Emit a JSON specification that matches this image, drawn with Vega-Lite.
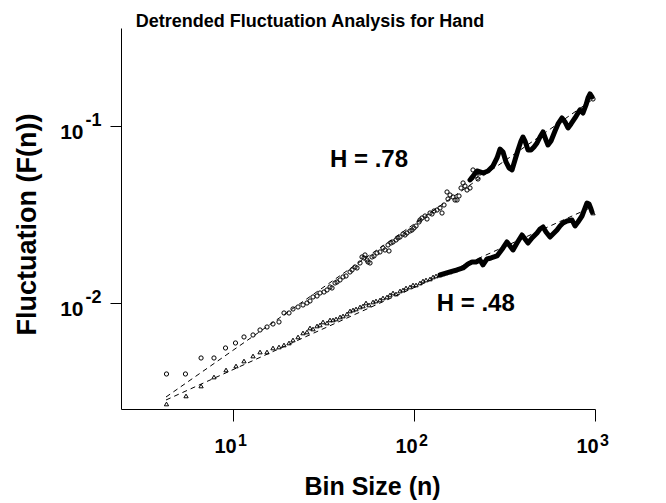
{
  "$schema": "https://vega.github.io/schema/vega-lite/v6.json",
  "width": 474,
  "height": 381,
  "autosize": {"type": "none"},
  "padding": {"left": 121, "top": 28, "right": 71, "bottom": 94},
  "background": "white",
  "config": {
    "view": {"stroke": null},
    "font": "Liberation Sans"
  },
  "title": {
    "text": "Detrended Fluctuation Analysis for Hand",
    "font": "Liberation Sans",
    "fontSize": 18,
    "fontWeight": "bold",
    "color": "black",
    "anchor": "middle",
    "dx": -48,
    "dy": 19,
    "offset": 2,
    "baseline": "alphabetic"
  },
  "datasets": {
    "pts": [
      {"series": "H = .78", "n": 4.29, "F": 0.003971},
      {"series": "H = .78", "n": 5.46, "F": 0.003971},
      {"series": "H = .78", "n": 6.66, "F": 0.004889},
      {"series": "H = .78", "n": 7.85, "F": 0.004889},
      {"series": "H = .78", "n": 9.09, "F": 0.005569},
      {"series": "H = .78", "n": 10.32, "F": 0.005943},
      {"series": "H = .78", "n": 11.5, "F": 0.006426},
      {"series": "H = .78", "n": 12.9, "F": 0.006596},
      {"series": "H = .78", "n": 14.1, "F": 0.007038},
      {"series": "H = .78", "n": 15.41, "F": 0.007318},
      {"series": "H = .78", "n": 16.63, "F": 0.00761},
      {"series": "H = .78", "n": 17.95, "F": 0.007811},
      {"series": "H = .78", "n": 19.13, "F": 0.00878},
      {"series": "H = .78", "n": 20.39, "F": 0.00878},
      {"series": "H = .78", "n": 21.45, "F": 0.00925},
      {"series": "H = .78", "n": 22.87, "F": 0.009493},
      {"series": "H = .78", "n": 24.36, "F": 0.009743},
      {"series": "H = .78", "n": 25.63, "F": 0.01},
      {"series": "H = .78", "n": 26.63, "F": 0.010264},
      {"series": "H = .78", "n": 27.67, "F": 0.010812},
      {"series": "H = .78", "n": 29.12, "F": 0.010953},
      {"series": "H = .78", "n": 30.25, "F": 0.011389},
      {"series": "H = .78", "n": 31.83, "F": 0.011538},
      {"series": "H = .78", "n": 33.06, "F": 0.011843},
      {"series": "H = .78", "n": 34.35, "F": 0.012313},
      {"series": "H = .78", "n": 35.24, "F": 0.012154},
      {"series": "H = .78", "n": 36.61, "F": 0.012972},
      {"series": "H = .78", "n": 37.56, "F": 0.013141},
      {"series": "H = .78", "n": 39.02, "F": 0.013489},
      {"series": "H = .78", "n": 40.53, "F": 0.014026},
      {"series": "H = .78", "n": 42.11, "F": 0.01421},
      {"series": "H = .78", "n": 44.31, "F": 0.014969},
      {"series": "H = .78", "n": 45.45, "F": 0.015363},
      {"series": "H = .78", "n": 47.21, "F": 0.015975},
      {"series": "H = .78", "n": 48.43, "F": 0.015768},
      {"series": "H = .78", "n": 50.32, "F": 0.016827},
      {"series": "H = .78", "n": 51.61, "F": 0.018194},
      {"series": "H = .78", "n": 52.94, "F": 0.017958},
      {"series": "H = .78", "n": 53.62, "F": 0.018673},
      {"series": "H = .78", "n": 55.0, "F": 0.017497},
      {"series": "H = .78", "n": 55.7, "F": 0.017048},
      {"series": "H = .78", "n": 57.14, "F": 0.016827},
      {"series": "H = .78", "n": 58.61, "F": 0.018194},
      {"series": "H = .78", "n": 60.12, "F": 0.018432},
      {"series": "H = .78", "n": 62.45, "F": 0.019165},
      {"series": "H = .78", "n": 64.88, "F": 0.019416},
      {"series": "H = .78", "n": 67.4, "F": 0.020452},
      {"series": "H = .78", "n": 69.14, "F": 0.019928},
      {"series": "H = .78", "n": 71.84, "F": 0.021266},
      {"series": "H = .78", "n": 72.76, "F": 0.01967},
      {"series": "H = .78", "n": 74.63, "F": 0.021826},
      {"series": "H = .78", "n": 76.56, "F": 0.022111},
      {"series": "H = .78", "n": 79.54, "F": 0.022693},
      {"series": "H = .78", "n": 81.58, "F": 0.023291},
      {"series": "H = .78", "n": 83.69, "F": 0.023596},
      {"series": "H = .78", "n": 86.95, "F": 0.024534},
      {"series": "H = .78", "n": 89.19, "F": 0.024217},
      {"series": "H = .78", "n": 91.49, "F": 0.024855},
      {"series": "H = .78", "n": 95.04, "F": 0.02551},
      {"series": "H = .78", "n": 97.5, "F": 0.025844},
      {"series": "H = .78", "n": 100.0, "F": 0.026525},
      {"series": "H = .78", "n": 102.6, "F": 0.027224},
      {"series": "H = .78", "n": 106.6, "F": 0.028678},
      {"series": "H = .78", "n": 107.9, "F": 0.029434},
      {"series": "H = .78", "n": 110.7, "F": 0.030209},
      {"series": "H = .78", "n": 115.0, "F": 0.031004},
      {"series": "H = .78", "n": 118.0, "F": 0.029819},
      {"series": "H = .78", "n": 122.6, "F": 0.032237},
      {"series": "H = .78", "n": 125.7, "F": 0.031821},
      {"series": "H = .78", "n": 129.0, "F": 0.033086},
      {"series": "H = .78", "n": 134.0, "F": 0.033519},
      {"series": "H = .78", "n": 139.2, "F": 0.034402},
      {"series": "H = .78", "n": 142.8, "F": 0.032237},
      {"series": "H = .78", "n": 146.5, "F": 0.035774},
      {"series": "H = .78", "n": 152.2, "F": 0.042371},
      {"series": "H = .78", "n": 154.1, "F": 0.03868},
      {"series": "H = .78", "n": 158.1, "F": 0.040744},
      {"series": "H = .78", "n": 164.3, "F": 0.039698},
      {"series": "H = .78", "n": 168.5, "F": 0.03818},
      {"series": "H = .78", "n": 172.9, "F": 0.03818},
      {"series": "H = .78", "n": 177.3, "F": 0.040218},
      {"series": "H = .78", "n": 181.9, "F": 0.044631},
      {"series": "H = .78", "n": 186.6, "F": 0.047643},
      {"series": "H = .78", "n": 191.3, "F": 0.045805},
      {"series": "H = .78", "n": 196.3, "F": 0.043486},
      {"series": "H = .78", "n": 203.9, "F": 0.044631},
      {"series": "H = .78", "n": 209.2, "F": 0.050843},
      {"series": "H = .78", "n": 211.8, "F": 0.056422},
      {"series": "H = .78", "n": 220.1, "F": 0.052183},
      {"series": "H = .78", "n": 225.7, "F": 0.050187},
      {"series": "H = .78", "n": 231.5, "F": 0.054263},
      {"series": "H = .78", "n": 975.0, "F": 0.1421},
      {"series": "H = .48", "n": 4.29, "F": 0.002688},
      {"series": "H = .48", "n": 5.5, "F": 0.002984},
      {"series": "H = .48", "n": 6.66, "F": 0.003397},
      {"series": "H = .48", "n": 7.85, "F": 0.003818},
      {"series": "H = .48", "n": 9.15, "F": 0.004183},
      {"series": "H = .48", "n": 10.39, "F": 0.004406},
      {"series": "H = .48", "n": 11.5, "F": 0.004701},
      {"series": "H = .48", "n": 12.9, "F": 0.005017},
      {"series": "H = .48", "n": 14.1, "F": 0.005285},
      {"series": "H = .48", "n": 15.41, "F": 0.005285},
      {"series": "H = .48", "n": 16.63, "F": 0.005569},
      {"series": "H = .48", "n": 17.95, "F": 0.005642},
      {"series": "H = .48", "n": 19.13, "F": 0.00579},
      {"series": "H = .48", "n": 20.39, "F": 0.005943},
      {"series": "H = .48", "n": 21.45, "F": 0.00618},
      {"series": "H = .48", "n": 22.87, "F": 0.006426},
      {"series": "H = .48", "n": 24.36, "F": 0.00677},
      {"series": "H = .48", "n": 25.63, "F": 0.006858},
      {"series": "H = .48", "n": 26.63, "F": 0.007225},
      {"series": "H = .48", "n": 27.67, "F": 0.007131},
      {"series": "H = .48", "n": 29.12, "F": 0.007415},
      {"series": "H = .48", "n": 30.25, "F": 0.007511},
      {"series": "H = .48", "n": 31.42, "F": 0.007811},
      {"series": "H = .48", "n": 33.06, "F": 0.007709},
      {"series": "H = .48", "n": 34.35, "F": 0.008017},
      {"series": "H = .48", "n": 35.69, "F": 0.008017},
      {"series": "H = .48", "n": 37.08, "F": 0.008121},
      {"series": "H = .48", "n": 39.02, "F": 0.008335},
      {"series": "H = .48", "n": 40.53, "F": 0.008445},
      {"series": "H = .48", "n": 42.64, "F": 0.008667},
      {"series": "H = .48", "n": 44.31, "F": 0.009012},
      {"series": "H = .48", "n": 46.03, "F": 0.009131},
      {"series": "H = .48", "n": 47.82, "F": 0.00925},
      {"series": "H = .48", "n": 50.32, "F": 0.009493},
      {"series": "H = .48", "n": 52.27, "F": 0.009618},
      {"series": "H = .48", "n": 54.3, "F": 0.01},
      {"series": "H = .48", "n": 56.42, "F": 0.009743},
      {"series": "H = .48", "n": 59.36, "F": 0.010131},
      {"series": "H = .48", "n": 61.66, "F": 0.010264},
      {"series": "H = .48", "n": 64.88, "F": 0.010398},
      {"series": "H = .48", "n": 67.4, "F": 0.010672},
      {"series": "H = .48", "n": 70.93, "F": 0.010812},
      {"series": "H = .48", "n": 73.69, "F": 0.011097},
      {"series": "H = .48", "n": 76.56, "F": 0.011389},
      {"series": "H = .48", "n": 79.54, "F": 0.011242},
      {"series": "H = .48", "n": 83.69, "F": 0.011689},
      {"series": "H = .48", "n": 86.95, "F": 0.011843},
      {"series": "H = .48", "n": 90.33, "F": 0.012154},
      {"series": "H = .48", "n": 95.04, "F": 0.012313},
      {"series": "H = .48", "n": 98.74, "F": 0.012637},
      {"series": "H = .48", "n": 102.6, "F": 0.012637},
      {"series": "H = .48", "n": 107.9, "F": 0.012972},
      {"series": "H = .48", "n": 112.1, "F": 0.013314},
      {"series": "H = .48", "n": 116.5, "F": 0.013489},
      {"series": "H = .48", "n": 122.6, "F": 0.013665},
      {"series": "H = .48", "n": 127.4, "F": 0.014026},
      {"series": "H = .48", "n": 132.3, "F": 0.01421},
      {"series": "H = .48", "n": 139.2, "F": 0.014396},
      {"series": "H = .48", "n": 144.6, "F": 0.014585},
      {"series": "H = .48", "n": 150.3, "F": 0.014776},
      {"series": "H = .48", "n": 158.1, "F": 0.014969},
      {"series": "H = .48", "n": 975.0, "F": 0.032237}
    ],
    "band": [
      {"series": "H = .78", "n": 203.9, "F": 0.049539},
      {"series": "H = .78", "n": 222.9, "F": 0.055695},
      {"series": "H = .78", "n": 240.5, "F": 0.054263},
      {"series": "H = .78", "n": 256.4, "F": 0.055695},
      {"series": "H = .78", "n": 273.2, "F": 0.059429},
      {"series": "H = .78", "n": 287.5, "F": 0.065939},
      {"series": "H = .78", "n": 298.7, "F": 0.074125},
      {"series": "H = .78", "n": 310.3, "F": 0.071293},
      {"series": "H = .78", "n": 322.3, "F": 0.062601},
      {"series": "H = .78", "n": 334.9, "F": 0.057906},
      {"series": "H = .78", "n": 347.9, "F": 0.056422},
      {"series": "H = .78", "n": 361.4, "F": 0.064248},
      {"series": "H = .78", "n": 375.5, "F": 0.073168},
      {"series": "H = .78", "n": 390.1, "F": 0.082247},
      {"series": "H = .78", "n": 400.2, "F": 0.086654},
      {"series": "H = .78", "n": 410.5, "F": 0.082247},
      {"series": "H = .78", "n": 426.5, "F": 0.073168},
      {"series": "H = .78", "n": 443.1, "F": 0.073168},
      {"series": "H = .78", "n": 460.3, "F": 0.076081},
      {"series": "H = .78", "n": 478.2, "F": 0.080137},
      {"series": "H = .78", "n": 496.8, "F": 0.086654},
      {"series": "H = .78", "n": 516.1, "F": 0.0925},
      {"series": "H = .78", "n": 536.2, "F": 0.083326},
      {"series": "H = .78", "n": 549.9, "F": 0.078083},
      {"series": "H = .78", "n": 571.3, "F": 0.082247},
      {"series": "H = .78", "n": 601.2, "F": 0.093706},
      {"series": "H = .78", "n": 624.6, "F": 0.10264},
      {"series": "H = .78", "n": 657.3, "F": 0.11097},
      {"series": "H = .78", "n": 682.9, "F": 0.10534},
      {"series": "H = .78", "n": 709.4, "F": 0.097431},
      {"series": "H = .78", "n": 737.0, "F": 0.10264},
      {"series": "H = .78", "n": 775.5, "F": 0.11097},
      {"series": "H = .78", "n": 805.6, "F": 0.11843},
      {"series": "H = .78", "n": 826.3, "F": 0.12313},
      {"series": "H = .78", "n": 858.5, "F": 0.11843},
      {"series": "H = .78", "n": 891.9, "F": 0.13141},
      {"series": "H = .78", "n": 914.9, "F": 0.14396},
      {"series": "H = .78", "n": 938.6, "F": 0.15163},
      {"series": "H = .78", "n": 962.5, "F": 0.14585},
      {"series": "H = .48", "n": 139.2, "F": 0.014396},
      {"series": "H = .48", "n": 158.1, "F": 0.014969},
      {"series": "H = .48", "n": 172.9, "F": 0.015363},
      {"series": "H = .48", "n": 186.6, "F": 0.015768},
      {"series": "H = .48", "n": 198.8, "F": 0.01661},
      {"series": "H = .48", "n": 209.2, "F": 0.017048},
      {"series": "H = .48", "n": 220.1, "F": 0.017048},
      {"series": "H = .48", "n": 231.5, "F": 0.017497},
      {"series": "H = .48", "n": 240.5, "F": 0.016396},
      {"series": "H = .48", "n": 253.1, "F": 0.017726},
      {"series": "H = .48", "n": 266.3, "F": 0.017958},
      {"series": "H = .48", "n": 287.5, "F": 0.018432},
      {"series": "H = .48", "n": 298.7, "F": 0.019416},
      {"series": "H = .48", "n": 310.3, "F": 0.020452},
      {"series": "H = .48", "n": 326.4, "F": 0.022111},
      {"series": "H = .48", "n": 339.2, "F": 0.020991},
      {"series": "H = .48", "n": 352.4, "F": 0.019928},
      {"series": "H = .48", "n": 370.7, "F": 0.021826},
      {"series": "H = .48", "n": 395.1, "F": 0.024217},
      {"series": "H = .48", "n": 410.5, "F": 0.02299},
      {"series": "H = .48", "n": 426.5, "F": 0.021826},
      {"series": "H = .48", "n": 448.7, "F": 0.023291},
      {"series": "H = .48", "n": 478.2, "F": 0.024855},
      {"series": "H = .48", "n": 496.8, "F": 0.026182},
      {"series": "H = .48", "n": 516.1, "F": 0.026872},
      {"series": "H = .48", "n": 536.2, "F": 0.02518},
      {"series": "H = .48", "n": 564.1, "F": 0.023596},
      {"series": "H = .48", "n": 586.1, "F": 0.024534},
      {"series": "H = .48", "n": 616.7, "F": 0.025844},
      {"series": "H = .48", "n": 640.7, "F": 0.027224},
      {"series": "H = .48", "n": 665.7, "F": 0.028308},
      {"series": "H = .48", "n": 700.5, "F": 0.029054},
      {"series": "H = .48", "n": 746.5, "F": 0.029434},
      {"series": "H = .48", "n": 775.5, "F": 0.027224},
      {"series": "H = .48", "n": 805.6, "F": 0.028678},
      {"series": "H = .48", "n": 847.6, "F": 0.031004},
      {"series": "H = .48", "n": 880.6, "F": 0.034402},
      {"series": "H = .48", "n": 903.3, "F": 0.036716},
      {"series": "H = .48", "n": 926.7, "F": 0.036242},
      {"series": "H = .48", "n": 950.4, "F": 0.033958},
      {"series": "H = .48", "n": 962.5, "F": 0.032659}
    ],
    "fit": [
      {"series": "H = .78", "n": 4.264, "F": 0.002943},
      {"series": "H = .78", "n": 962.5, "F": 0.14026},
      {"series": "H = .48", "n": 4.264, "F": 0.002831},
      {"series": "H = .48", "n": 962.5, "F": 0.034855}
    ],
    "notes": [
      {"label": "H = .78", "n": 34.35, "F": 0.05867},
      {"label": "H = .48", "n": 133.5, "F": 0.009012}
    ]
  },
  "resolve": {"axis": {"x": "independent", "y": "independent"}},
  "layer": [
    {
      "data": {"name": "fit"},
      "mark": {"type": "line", "color": "black", "strokeWidth": 1, "strokeDash": [5, 4]},
      "encoding": {
        "x": {
          "field": "n",
          "type": "quantitative",
          "scale": {"type": "log", "domain": [2.405, 1000], "nice": false, "zero": false},
          "axis": {
            "orient": "bottom",
            "values": [10, 100, 1000],
            "labelExpr": "'10'",
            "grid": false,
            "domainColor": "black",
            "domainWidth": 1,
            "tickColor": "black",
            "tickWidth": 1,
            "tickSize": 12,
            "labelFont": "Liberation Sans",
            "labelFontSize": 20,
            "labelFontWeight": "bold",
            "labelColor": "black",
            "labelAlign": "center",
            "labelOffset": -8,
            "labelPadding": 15,
            "labelFlush": false,
            "labelOverlap": false,
            "title": "Bin Size (n)",
            "titleFont": "Liberation Sans",
            "titleFontSize": 25,
            "titleFontWeight": "bold",
            "titleColor": "black",
            "titleX": 251,
            "titleY": 85,
            "titleAlign": "center",
            "titleBaseline": "alphabetic"
          }
        },
        "y": {
          "field": "F",
          "type": "quantitative",
          "scale": {"type": "log", "domain": [0.002518, 0.35774], "nice": false, "zero": false},
          "axis": {
            "orient": "left",
            "values": [0.01, 0.1],
            "labelExpr": "'10'",
            "grid": false,
            "domainColor": "black",
            "domainWidth": 1,
            "tickColor": "black",
            "tickWidth": 1,
            "tickSize": 11,
            "labelFont": "Liberation Sans",
            "labelFontSize": 21,
            "labelFontWeight": "bold",
            "labelColor": "black",
            "labelAlign": "right",
            "labelBaseline": "middle",
            "labelPadding": 27,
            "labelOffset": 7,
            "labelFlush": false,
            "labelOverlap": false,
            "title": "Fluctuation (F(n))",
            "titleFont": "Liberation Sans",
            "titleFontSize": 27,
            "titleFontWeight": "bold",
            "titleColor": "black",
            "titleX": -86,
            "titleY": 196,
            "titleAngle": 270,
            "titleAlign": "center",
            "titleBaseline": "alphabetic"
          }
        },
        "detail": {"field": "series"}
      }
    },
    {
      "data": {"name": "band"},
      "mark": {"type": "line", "color": "black", "strokeWidth": 5, "strokeJoin": "round", "strokeCap": "round"},
      "encoding": {
        "x": {"field": "n", "type": "quantitative", "axis": null},
        "y": {"field": "F", "type": "quantitative", "axis": null},
        "detail": {"field": "series"}
      }
    },
    {
      "data": {"name": "pts"},
      "mark": {"type": "point", "filled": false, "color": "black", "strokeWidth": 1, "size": 18, "opacity": 1},
      "encoding": {
        "x": {"field": "n", "type": "quantitative", "axis": null},
        "y": {"field": "F", "type": "quantitative", "axis": null},
        "shape": {
          "field": "series",
          "type": "nominal",
          "scale": {"domain": ["H = .78", "H = .48"], "range": ["circle", "triangle-up"]},
          "legend": null
        }
      }
    },
    {
      "data": {"name": "notes"},
      "mark": {"type": "text", "align": "left", "baseline": "alphabetic", "font": "Liberation Sans", "fontSize": 24, "fontWeight": "bold", "color": "black"},
      "encoding": {
        "x": {
          "field": "n",
          "type": "quantitative",
          "axis": {
            "orient": "bottom",
            "values": [10, 100, 1000],
            "labelExpr": "datum.value > 500 ? '3' : datum.value > 50 ? '2' : '1'",
            "grid": false,
            "domain": false,
            "ticks": false,
            "tickSize": 0,
            "labelFont": "Liberation Sans",
            "labelFontSize": 16,
            "labelFontWeight": "bold",
            "labelColor": "black",
            "labelAlign": "center",
            "labelOffset": 9,
            "labelPadding": 23,
            "labelFlush": false,
            "labelOverlap": false,
            "title": null
          }
        },
        "y": {
          "field": "F",
          "type": "quantitative",
          "axis": {
            "orient": "left",
            "values": [0.01, 0.1],
            "labelExpr": "datum.value > 0.05 ? '-1' : '-2'",
            "grid": false,
            "domain": false,
            "ticks": false,
            "tickSize": 0,
            "labelFont": "Liberation Sans",
            "labelFontSize": 18,
            "labelFontWeight": "bold",
            "labelColor": "black",
            "labelAlign": "right",
            "labelBaseline": "middle",
            "labelPadding": 20,
            "labelOffset": -5,
            "labelFlush": false,
            "labelOverlap": false,
            "title": null
          }
        },
        "text": {"field": "label"}
      }
    }
  ]
}
